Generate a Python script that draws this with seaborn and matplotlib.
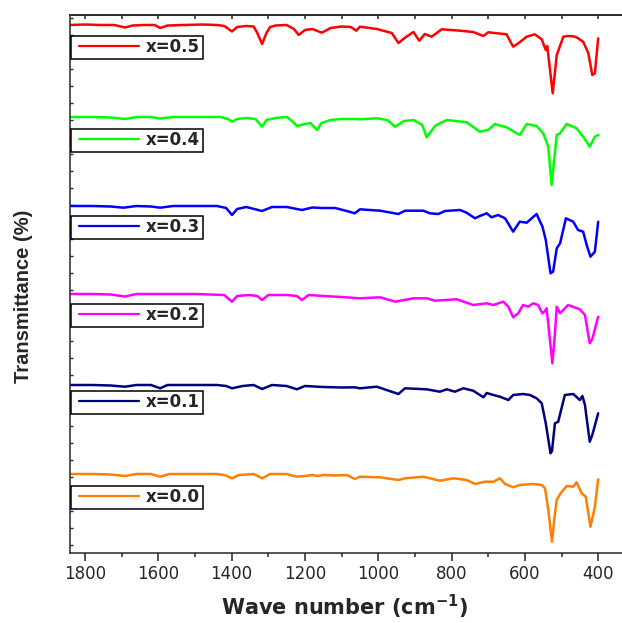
import matplotlib
matplotlib.use("Agg")
import matplotlib.pyplot as plt
from matplotlib.legend import Legend
from matplotlib.lines import Line2D
from matplotlib import font_manager
import numpy as np
import pandas as pd
import seaborn as sns

# (wavenumber cm-1, shift from the trace baseline)
x05 = [(1841, 0), (1800, 0.5), (1759, 0), (1720, 0), (1691, -2.5), (1670, -0.5), (1640, 0), (1610, 0),
       (1595, -3), (1575, -0.5), (1530, 0), (1480, 0.5), (1440, 0), (1420, -1), (1399, -6.5), (1385, -2),
       (1360, -1), (1340, -1.5), (1330, -8), (1317, -19), (1305, -8), (1295, -2), (1280, -0.5), (1250, 0),
       (1230, -4), (1217, -10), (1200, -5), (1180, -4), (1154, -7.7), (1130, -3), (1100, -1.5), (1075, -2),
       (1060, -5.7), (1050, -1.7), (1004, -4), (963, -8), (945, -18), (927, -12.7), (904, -7), (888, -15.7),
       (873, -9), (854, -11.7), (827, -4.3), (777, -5.7), (741, -7), (713, -11), (700, -7.3), (650, -9.3),
       (632, -21.7), (618, -18.3), (595, -11.7), (573, -9.3), (554, -14.3), (543, -25), (539, -21),
       (524, -68.3), (513, -30), (495, -11.7), (482, -11), (468, -11.3), (459, -12.3), (441, -16.7),
       (427, -28), (416, -50), (409, -48.3), (400, -13.3)]
x04 = [(1841, 0), (1780, 0), (1730, -0.5), (1691, -2), (1660, 0), (1620, 0), (1595, -1.5), (1560, 0),
       (1500, 0), (1430, 0), (1410, -2), (1399, -4.7), (1385, -2), (1360, -1), (1335, -2), (1317, -9.7),
       (1305, -3), (1280, -1), (1250, 0), (1235, -4), (1222, -9), (1200, -7), (1185, -6), (1167, -13),
       (1155, -6), (1130, -3), (1100, -2), (1064, -2), (1050, -2.3), (1004, -1.3), (975, -3), (954, -9.7),
       (930, -4), (904, -3), (880, -8), (868, -20.3), (845, -9), (832, -6.3), (813, -3), (759, -5.3),
       (723, -14.7), (700, -13), (682, -7), (650, -10.3), (614, -18), (595, -7), (568, -9), (550, -16.3),
       (536, -29.7), (527, -68), (513, -18), (504, -16.3), (486, -7), (459, -11.3), (441, -19.7),
       (423, -29.7), (409, -19.7), (400, -18)]
x03 = [(1841, 0), (1780, 0), (1730, -0.5), (1695, -1.7), (1660, 0), (1620, -0.5), (1595, -1.7), (1560, 0),
       (1500, 0), (1440, 0), (1415, -2), (1399, -9), (1385, -3), (1360, -1), (1317, -5), (1290, -1),
       (1250, -1), (1208, -4), (1180, -1.5), (1155, -2), (1118, -2), (1086, -5), (1064, -7.3), (1050, -3.3),
       (995, -4.7), (945, -8), (927, -4.7), (877, -4.7), (859, -7.3), (836, -8), (818, -5), (777, -4),
       (759, -6.7), (736, -12.3), (723, -10), (704, -7.3), (691, -11.3), (673, -9), (654, -12.3),
       (632, -25.7), (614, -15.7), (595, -16.7), (568, -8), (552, -20.7), (543, -34), (530, -67.3),
       (523, -65.7), (513, -42.3), (504, -37.3), (488, -12.3), (468, -15.7), (455, -24), (441, -25.7),
       (430, -40.7), (421, -50.7), (409, -45.7), (400, -15.7)]
x02 = [(1841, 0), (1780, 0), (1730, -0.5), (1691, -2.5), (1660, 0), (1620, 0), (1560, 0), (1500, 0),
       (1420, -1), (1399, -7.7), (1385, -2), (1350, -1), (1330, -2), (1317, -6), (1300, -1), (1250, -1),
       (1222, -2), (1208, -6), (1190, -1), (1150, -2), (1100, -3), (1064, -4), (1050, -4.3), (995, -3.3),
       (954, -7.7), (904, -4.3), (868, -4.3), (845, -6.7), (786, -5.3), (741, -11), (704, -9.3), (686, -11),
       (659, -7.7), (645, -12.7), (632, -23.3), (618, -19.3), (605, -11), (591, -12.7), (577, -9.3),
       (564, -11), (552, -19.3), (545, -17), (541, -14.3), (536, -30), (525, -69.3), (518, -40),
       (513, -12.7), (504, -19.3), (482, -11), (450, -15.3), (436, -21), (423, -49.3), (416, -45),
       (400, -22.7)]
x01 = [(1841, 0), (1780, 0), (1730, -0.5), (1691, -1.7), (1660, 0), (1620, 0), (1595, -3.3), (1575, 0),
       (1500, 0), (1440, 0), (1415, -1), (1399, -3.3), (1370, -1), (1340, 0), (1317, -4), (1290, 0),
       (1250, -1), (1222, -4.3), (1200, -1), (1150, -2), (1100, -2.5), (1064, -2.3), (1050, -3.3),
       (1004, -1.7), (945, -9), (927, -3.3), (868, -4.3), (832, -6.7), (813, -4.3), (791, -6.7), (768, -3.3),
       (741, -5.7), (713, -12.3), (704, -8), (686, -10), (668, -11.7), (645, -15), (632, -10), (605, -9),
       (586, -10), (568, -13.3), (554, -18.3), (543, -38.3), (530, -68.3), (526, -66), (518, -38.3),
       (509, -36.7), (491, -10), (468, -9), (450, -15), (443, -11), (436, -20), (432, -31.7), (423, -56.7),
       (416, -50), (400, -28.3)]
x00 = [(1841, 0), (1780, 0), (1730, -0.5), (1691, -2), (1660, 0), (1620, 0), (1595, -2.7), (1570, 0),
       (1500, 0), (1440, 0), (1415, -1.5), (1399, -4.3), (1380, -1), (1340, 0), (1317, -4.3), (1295, 0),
       (1250, 0), (1222, -2.7), (1200, -2), (1180, -1), (1165, -2), (1150, -1), (1118, -1.5), (1086, -1),
       (1064, -5), (1050, -2.7), (995, -3.3), (945, -6), (927, -4.3), (877, -2.7), (832, -6.7), (795, -4.3),
       (759, -6), (736, -10), (709, -7.7), (686, -7.7), (668, -4.3), (654, -10), (632, -13.3), (614, -11),
       (577, -10), (554, -11), (545, -14.3), (536, -36), (526, -67.7), (518, -40), (513, -26), (504, -20),
       (486, -12), (468, -12.7), (459, -8.3), (445, -19.3), (434, -22.7), (421, -52.7), (409, -32.7),
       (400, -5.3)]

labels = ["x=0.5", "x=0.4", "x=0.3", "x=0.2", "x=0.1", "x=0.0"]
series = [x05, x04, x03, x02, x01, x00]
offsets = [528, 436, 347, 259, 168, 79]
colors = ["#ff0000", "#00ff00", "#0000ff", "#ff00ff", "#000080", "#ff8000"]
legend_y = [47, 140, 227, 315, 402, 497]   # legend box centres, px from top

sns.set_style("ticks")
plt.rcParams['font.family'] = ['DejaVu Sans']

fig = plt.figure(figsize=(6.22, 6.23), dpi=100)
ax = fig.add_axes([70 / 622, 70 / 623, 552 / 622, 538 / 623])

for pts, off, c in zip(series, offsets, colors):
    df = pd.DataFrame(pts, columns=["wn", "t"])
    df["t"] = df["t"] + off
    sns.lineplot(data=df, x="wn", y="t", color=c, lw=1.8, sort=False, estimator=None, ax=ax)

ax.set_xlim(1841, 335)
ax.set_ylim(0, 538)

ax.set_xticks(range(400, 1900, 200))
ax.set_xticks(range(500, 1900, 200), minor=True)
ax.tick_params(axis="x", which="major", direction="out", length=6, width=1.1, labelsize=12, pad=2.5)
ax.tick_params(axis="x", which="minor", direction="out", length=3, width=1.1)
ax.set_yticks(np.arange(8, 538, 17))
ax.tick_params(axis="y", direction="in", length=2.5, width=1, labelleft=False)

top = ax.secondary_xaxis("top")
top.set_xticks(range(400, 1900, 100))
top.tick_params(direction="in", length=3, width=1.1, labeltop=False)
top.spines["top"].set_linewidth(1.1)

for s in ["left", "bottom", "top"]:
    ax.spines[s].set_linewidth(1.1)
ax.spines["right"].set_visible(False)

ax.set_xlabel(r"Wave number (cm$^{\mathbf{-1}}$)", fontsize=15, fontweight="bold", va="center")
ax.xaxis.set_label_coords(0.498, -0.1)

names = {f.name for f in font_manager.fontManager.ttflist}
if "Liberation Sans Narrow" in names:
    ax.set_ylabel("Transmittance (%)", family="Liberation Sans Narrow", fontsize=17.5,
                  fontweight="bold", ha="center", va="center")
else:
    ax.set_ylabel("Transmittance (%)", family="Liberation Sans", fontsize=14.5,
                  fontweight="bold", ha="center", va="center")
ax.yaxis.set_label_coords(-0.084, 0.478)

for lab, c, yc in zip(labels, colors, legend_y):
    h = Line2D([], [], color=c, lw=1.6)
    leg = Legend(ax, [h], [lab], loc="center left", bbox_to_anchor=(71 / 622, 1 - yc / 623),
                 bbox_transform=fig.transFigure, borderaxespad=0, frameon=True, fancybox=False,
                 edgecolor="black", framealpha=1, borderpad=0.15, handlelength=4.2,
                 handletextpad=0.16, numpoints=2, prop={"weight": "bold", "size": 12})
    leg.get_frame().set_linewidth(1.1)
    ax.add_artist(leg)

fig.savefig("out.png", dpi=100)
